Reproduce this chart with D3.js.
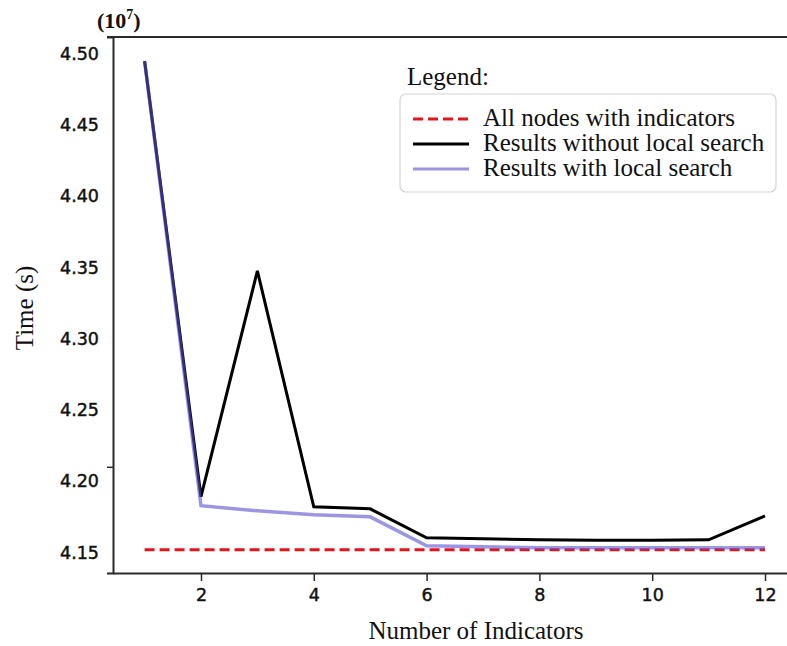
<!DOCTYPE html>
<html>
<head>
<meta charset="utf-8">
<script src="https://cdn.jsdelivr.net/npm/d3@7"></script>
<style>
  body { margin: 0; background: #fff; }
  .tick-label text { font-family: 'DejaVu Sans', sans-serif; font-size: 17.5px; fill: #111; stroke: #111; stroke-width: 0.45px; }
  .serif { font-family: 'Liberation Serif', 'Times New Roman', serif; fill: #111; }
</style>
</head>
<body>
<div id="chartContainer"></div>
<script>
const indicators = [1, 2, 3, 4, 5, 6, 7, 8, 9, 10, 11, 12];
// values in units of 10^7 s
const allNodes = [4.1418, 4.1418, 4.1418, 4.1418, 4.1418, 4.1418, 4.1418, 4.1418, 4.1418, 4.1418, 4.1418, 4.1418];
const withoutLocal = [4.4847, 4.1790, 4.3374, 4.1719, 4.1705, 4.1502, 4.1495, 4.1488, 4.1485, 4.1485, 4.1488, 4.1656];
const withLocal = [4.4847, 4.1727, 4.1691, 4.1663, 4.1649, 4.1446, 4.1439, 4.1432, 4.1432, 4.1432, 4.1432, 4.1432];
const xTicks = [2, 4, 6, 8, 10, 12];
const yTickLabels = [4.15, 4.20, 4.25, 4.30, 4.35, 4.40, 4.45, 4.50];

const svgWidth = 787;
const svgHeight = 646;

const svg = d3.select('#chartContainer').append('svg').attr('width', svgWidth).attr('height', svgHeight);

const xScale = d3.scaleLinear().domain([0.44, 12.39]).range([113, 787]);
const yScale = d3.scaleLinear().domain([4.1255, 4.5015]).range([573, 37]);

const axisColor = '#2a2a2a';

// top spine
svg.append('line')
    .attr('x1', 107).attr('x2', xScale.range()[1])
    .attr('y1', yScale.range()[1]).attr('y2', yScale.range()[1])
    .attr('stroke', axisColor).attr('stroke-width', 2);

// x axis
const xAxis = svg.append('g')
    .attr('transform', `translate(0, ${yScale.range()[0]})`)
    .call(d3.axisBottom(xScale).tickValues(xTicks).tickSize(8).tickSizeOuter(0).tickPadding(8).tickFormat(d3.format('d')));
xAxis.attr('class', 'tick-label');
xAxis.select('.domain').attr('stroke', axisColor).attr('stroke-width', 2);
xAxis.selectAll('.tick line').attr('stroke', axisColor).attr('stroke-width', 1.5);

// y axis: ticks and spine
const yAxis = svg.append('g')
    .attr('transform', `translate(${xScale.range()[0]}, 0)`)
    .call(d3.axisLeft(yScale).tickValues([4.20]).tickSize(6).tickSizeOuter(6).tickFormat(''));
yAxis.select('.domain').attr('stroke', axisColor).attr('stroke-width', 2);
yAxis.selectAll('.tick line').attr('stroke', axisColor).attr('stroke-width', 1.5);

// y tick labels (drawn slightly below their ticks, as in the figure)
const yLabels = svg.append('g')
    .attr('class', 'tick-label')
    .attr('transform', `translate(${xScale.range()[0]}, 14.5)`)
    .call(d3.axisLeft(yScale).tickValues(yTickLabels).tickSize(0).tickPadding(14).tickFormat(d3.format('.2f')));
yLabels.select('.domain').remove();

// lines
const line = (vals) => d3.line()
    .x((d, i) => xScale(indicators[i]))
    .y((d) => yScale(d))(vals);

svg.append('path')
    .attr('d', line(withoutLocal))
    .attr('fill', 'none').attr('stroke', '#000').attr('stroke-width', 3);

svg.append('path')
    .attr('d', line(allNodes))
    .attr('fill', 'none').attr('stroke', '#e3141c').attr('stroke-width', 3)
    .attr('stroke-dasharray', '10,5');

svg.append('path')
    .attr('d', line(withLocal))
    .attr('fill', 'none').attr('stroke', '#5a4fcf').attr('stroke-opacity', 0.6).attr('stroke-width', 3.5);

// legend
const legend = svg.append('g').attr('transform', 'translate(400, 94)');
legend.append('text').attr('class', 'serif')
    .attr('x', 7).attr('y', -9).attr('font-size', 25).text('Legend:');
legend.append('rect')
    .attr('width', 376).attr('height', 98).attr('rx', 6)
    .attr('fill', '#fff').attr('stroke', '#d4d4d4').attr('stroke-width', 1.2);

const legendItems = [
    { label: 'All nodes with indicators', color: '#e3141c', opacity: 1, dash: '10,5' },
    { label: 'Results without local search', color: '#000', opacity: 1, dash: null },
    { label: 'Results with local search', color: '#5a4fcf', opacity: 0.6, dash: null },
];
legendItems.forEach((d, i) => {
    const y = 25 + i * 25;
    legend.append('line')
        .attr('x1', 13).attr('x2', 69).attr('y1', y).attr('y2', y)
        .attr('stroke', d.color).attr('stroke-opacity', d.opacity).attr('stroke-width', 3)
        .attr('stroke-dasharray', d.dash);
    legend.append('text').attr('class', 'serif')
        .attr('x', 83).attr('y', y + 7).attr('font-size', 25).text(d.label);
});

// axis titles
svg.append('text').attr('class', 'serif')
    .attr('x', 476).attr('y', 639).attr('text-anchor', 'middle').attr('font-size', 25)
    .text('Number of Indicators');

svg.append('text').attr('class', 'serif')
    .attr('transform', 'translate(33, 308) rotate(-90)')
    .attr('text-anchor', 'middle').attr('font-size', 25)
    .text('Time (s)');

const expo = svg.append('text').attr('class', 'serif')
    .attr('x', 97).attr('y', 28).attr('font-size', 22).attr('font-weight', 'bold');
expo.append('tspan').text('(10');
expo.append('tspan').attr('font-size', 14).attr('dy', -9).text('7');
expo.append('tspan').attr('dy', 9).text(')');
</script>
</body>
</html>
